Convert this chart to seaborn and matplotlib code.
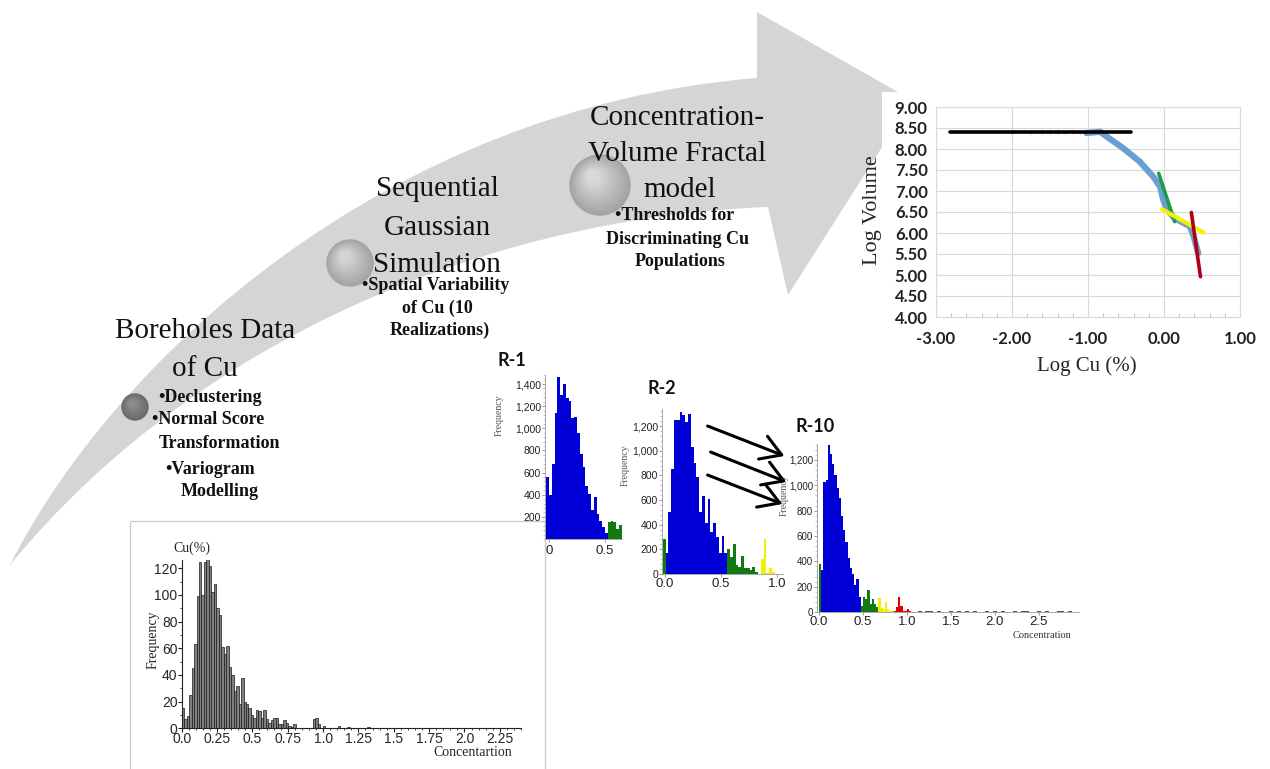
import numpy as np
import pandas as pd
import matplotlib
matplotlib.use("Agg")
import matplotlib.pyplot as plt
import seaborn as sns
from matplotlib.path import Path
from matplotlib.patches import PathPatch, Circle, Rectangle, FancyArrowPatch
from matplotlib.ticker import MultipleLocator

sns.set_theme(style="white")
plt.rcParams["font.family"] = ["DejaVu Sans"]

# ------------------------------------------------------------------ data
# Boreholes data histogram (Cu %)
main_bin_start = 0.0
main_bin_width = 0.0175
main_counts = [15, 7, 9, 25, 45, 63, 99, 125, 100, 125,
               127, 122, 102, 108, 90, 85, 61, 56, 62, 46,
               40, 28, 32, 18, 38, 20, 18, 15, 10, 8,
               14, 13, 8, 14, 7, 4, 6, 8, 8, 3,
               3, 6, 4, 2, 1, 3, 0, 0, 0, 0,
               0, 0, 0, 7, 8, 3, 0, 2, 0, 0,
               0, 0, 0, 2, 0, 0, 0, 1, 0, 0,
               0, 0, 0, 0, 0, 1]
main_xticks = [0.0, 0.25, 0.5, 0.75, 1.0, 1.25, 1.5, 1.75, 2.0, 2.25]
main_xticklabels = ["0.0", "0.25", "0.5", "0.75", "1.0", "1.25", "1.5", "1.75", "2.0", "2.25"]
main_yticks = [0, 20, 40, 60, 80, 100, 120]

# Realization R-1
r1_bin_start = -0.025
r1_bin_width = 0.025
r1_counts = [560, 400, 680, 1140, 1460, 1300, 1400, 1270, 1250, 1090,
             1100, 960, 770, 650, 480, 410, 260, 380, 230, 160,
             110, 50,
             150, 160, 150, 90, 130]
r1_classes = ["blue"] * 22 + ["green"] * 5
r1_yticks = [200, 400, 600, 800, 1000, 1200, 1400]
r1_xticks = [0.0, 0.5]
r1_xticklabels = ["0", "0.5"]

# Realization R-2
r2_bin_start = -0.02
r2_bin_width = 0.025
r2_counts = [280,
             170, 500, 850, 1250, 1250, 1310, 1290, 1230, 1300, 1030,
             900, 790, 500, 630, 410, 610, 340, 410, 300, 170, 310, 170,
             200, 140, 240, 75, 60, 150, 50, 50, 30, 55, 20, 0,
             120, 280, 10, 45, 15]
r2_classes = ["green"] + ["blue"] * 22 + ["green"] * 12 + ["yellow"] * 5
r2_yticks = [0, 200, 400, 600, 800, 1000, 1200]
r2_xticks = [0.0, 0.5, 1.0]
r2_xticklabels = ["0.0", "0.5", "1.0"]

# Realization R-10
r10_bin_start = 0.0
r10_bin_width = 0.025
r10_counts = [380,
              330, 1030, 1040, 1320, 1250, 1170, 1080, 980, 900, 760,
              650, 550, 430, 350, 300, 210, 260, 120,
              50, 120, 100, 170, 60, 100, 60, 40,
              110, 30, 20, 80, 20, 10, 10,
              10, 40, 120, 50, 10, 10, 20, 10]
r10_classes = ["green"] + ["blue"] * 18 + ["green"] * 8 + ["yellow"] * 7 + ["red"] * 8
r10_tail_x = [1.12, 1.22, 1.30, 1.38, 1.50, 1.58, 1.70, 1.78, 1.90, 2.02,
              2.10, 2.22, 2.30, 2.38, 2.50, 2.60, 2.70, 2.78, 2.88]
r10_tail_n = [10, 8, 6, 5, 6, 4, 6, 5, 4, 6, 5, 7, 6, 5, 6, 5, 6, 5, 6]
r10_yticks = [0, 200, 400, 600, 800, 1000, 1200]
r10_xticks = [0.0, 0.5, 1.0, 1.5, 2.0, 2.5]
r10_xticklabels = ["0.0", "0.5", "1.0", "1.5", "2.0", "2.5"]

# Concentration-Volume fractal plot
cv_black_x = [-2.82, -0.43]
cv_black_y = [8.40, 8.40]
cv_gray_x = [-2.0, -1.75, -1.6, -1.5, -1.4, -1.3, -1.2, -1.1, -1.0, -0.9, -0.8]
cv_gray_y = [8.41] * 11
cv_blue_x = [-1.02, -0.84, -0.75, -0.53, -0.32, -0.14, -0.05, -0.01, 0.04, 0.14, 0.34, 0.39, 0.45]
cv_blue_y = [8.38, 8.41, 8.29, 8.01, 7.70, 7.34, 7.10, 6.79, 6.55, 6.35, 6.16, 5.92, 5.52]
cv_green_x = [-0.07, 0.14]
cv_green_y = [7.42, 6.27]
cv_yellow_x = [-0.03, 0.52]
cv_yellow_y = [6.57, 6.01]
cv_red_x = [0.36, 0.48]
cv_red_y = [6.49, 4.96]
cv_xticks = [-3, -2, -1, 0, 1]
cv_yticks = [4.0, 4.5, 5.0, 5.5, 6.0, 6.5, 7.0, 7.5, 8.0, 8.5, 9.0]

palette = {"blue": "#0000d6", "green": "#137a13", "yellow": "#f0f000",
           "red": "#dc0000", "tail": "#555555"}

# ------------------------------------------------------------------ figure
W, H = 1270, 769
fig = plt.figure(figsize=(W / 100, H / 100), dpi=100)
fig.patch.set_facecolor("white")


def px_axes(left, top, right, bottom, z=1):
    return fig.add_axes([left / W, 1 - bottom / H, (right - left) / W, (bottom - top) / H], zorder=z)


SERIF = ["Liberation Serif", "DejaVu Serif"]
SANS = ["Liberation Sans", "DejaVu Sans"]

# background layer ------------------------------------------------------
bg = px_axes(0, 0, W, H, z=0)
bg.set_xlim(0, W)
bg.set_ylim(H, 0)
bg.axis("off")

verts = [(10, 565), (112, 362), (385, 108), (757, 78),
         (757, 12), (912, 100), (788, 295), (768, 207),
         (500, 217), (200, 333), (10, 565), (10, 565)]
codes = [Path.MOVETO, Path.CURVE4, Path.CURVE4, Path.CURVE4,
         Path.LINETO, Path.LINETO, Path.LINETO, Path.LINETO,
         Path.CURVE4, Path.CURVE4, Path.CURVE4, Path.CLOSEPOLY]
bg.add_patch(PathPatch(Path(verts, codes), facecolor="#d5d5d5", edgecolor="none", zorder=1))


def sphere(cx, cy, r, dark, light):
    c0 = np.array(matplotlib.colors.to_rgb(dark))
    c1 = np.array(matplotlib.colors.to_rgb(light))
    n = 14
    for i in range(n):
        f = i / n
        rr = r * (1 - 0.85 * f)
        col = c0 + (c1 - c0) * f
        bg.add_patch(Circle((cx - 0.25 * r * f, cy - 0.3 * r * f), rr, color=col, zorder=2))


sphere(135, 407, 13, "#6a6a6a", "#8e8e8e")
sphere(350, 263, 23, "#a4a4a4", "#d8d8d8")
sphere(600, 185, 30, "#a4a4a4", "#dcdcdc")

# white panels
bg.add_patch(Rectangle((882, 92), 390, 300, facecolor="white", edgecolor="none", zorder=5))
bg.add_patch(Rectangle((130, 521), 415, 260, facecolor="white", edgecolor="#cccccc", lw=1, zorder=5))

head_kw = dict(family=SERIF, fontsize=21, color="#111111", ha="center", va="center", zorder=6)
for txt, x, y in [("Boreholes Data", 205, 331), ("of Cu", 205, 369),
                  ("Sequential", 437, 189), ("Gaussian", 437, 228), ("Simulation", 437, 265),
                  ("Concentration-", 677, 118), ("Volume Fractal", 677, 154), ("model", 680, 190)]:
    bg.text(x, y, txt, **head_kw)

bul_kw = dict(family=SERIF, fontsize=13, fontweight="bold", color="#111111", ha="center", va="center", zorder=6)
for txt, x, y in [("\u2022Declustering", 210, 397), ("\u2022Normal Score", 208, 420),
                  ("Transformation", 219, 443), ("\u2022Variogram", 210, 470), ("Modelling", 220, 492),
                  ("\u2022Spatial Variability", 436, 285), ("of Cu (10", 437, 308),
                  ("Realizations)", 440, 330),
                  ("\u2022Thresholds for", 675, 216), ("Discriminating Cu", 677, 240),
                  ("Populations", 680, 262)]:
    bg.text(x, y, txt, **bul_kw)

for txt, x, y in [("R-1", 512, 360), ("R-2", 662, 389), ("R-10", 815, 426)]:
    bg.text(x, y, txt, family=["Lato", "DejaVu Sans"], fontsize=13, fontweight="bold",
            ha="center", va="center", color="#111111", zorder=6)

# small axis titles drawn on the background layer
bg.text(192, 548, "Cu(%)", family=SERIF, fontsize=10, ha="center", va="center", zorder=6)
bg.text(153, 640, "Frequency", family=SERIF, fontsize=10, rotation=90, ha="center", va="center", zorder=6)
bg.text(473, 752, "Concentartion", family=SERIF, fontsize=10, ha="center", va="center", zorder=6)
bg.text(499, 415, "Frequency", family=SERIF, fontsize=7, rotation=90, color="#555555",
        ha="center", va="center", zorder=6)
bg.text(625, 465, "Frequency", family=SERIF, fontsize=7, rotation=90, color="#555555",
        ha="center", va="center", zorder=6)
bg.text(784, 495, "Frequency", family=SERIF, fontsize=7, rotation=90, color="#555555",
        ha="center", va="center", zorder=6)
bg.text(1042, 636, "Concentration", family=SERIF, fontsize=7.5, color="#333333",
        ha="center", va="center", zorder=6)
bg.text(872, 210, "Log Volume", family=SERIF, fontsize=16, rotation=90, ha="center", va="center", zorder=6)
bg.text(1087, 366, "Log Cu (%)", family=SERIF, fontsize=15, ha="center", va="center", zorder=6)

# ------------------------------------------------------------------ main histogram
axm = px_axes(181.7, 560.3, 521, 728.3, z=2)
axm.patch.set_alpha(0)
n_main = len(main_counts)
main_centers = [main_bin_start + main_bin_width * (i + 0.5) for i in range(n_main)]
sns.histplot(x=main_centers, weights=main_counts, binwidth=main_bin_width,
             binrange=(main_bin_start, main_bin_start + main_bin_width * n_main),
             color="#808080", edgecolor="#1c1c1c", linewidth=0.5, alpha=1, ax=axm)
axm.set_xlim(0, 2.4)
axm.set_ylim(0, 126)
axm.set_xlabel("")
axm.set_ylabel("")
for s in ["top", "right"]:
    axm.spines[s].set_visible(False)
for s in ["left", "bottom"]:
    axm.spines[s].set_color("#222222")
    axm.spines[s].set_linewidth(0.8)
axm.set_xticks(main_xticks)
axm.set_xticklabels(main_xticklabels)
axm.set_yticks(main_yticks)
axm.set_yticklabels([str(v) for v in main_yticks])
axm.xaxis.set_minor_locator(MultipleLocator(0.05))
axm.yaxis.set_minor_locator(MultipleLocator(10))
axm.tick_params(which="major", direction="out", length=3, width=0.8, color="#222222",
                labelsize=10, pad=0, bottom=True, left=True)
axm.tick_params(which="minor", direction="out", length=1.5, width=0.6, color="#222222",
                bottom=True, left=True)
for lab in axm.get_xticklabels() + axm.get_yticklabels():
    lab.set_family(SANS)


# ------------------------------------------------------------------ realizations
def realization(ax, start, width, counts, classes, xlim, ylim, xticks, xlabels, yticks):
    n = len(counts)
    df = pd.DataFrame({"x": [start + width * (i + 0.5) for i in range(n)],
                       "n": counts, "cls": classes})
    sns.histplot(data=df, x="x", weights="n", hue="cls", palette=palette,
                 binwidth=width, binrange=(start, start + width * n),
                 multiple="layer", alpha=1, linewidth=0, legend=False, ax=ax)
    ax.patch.set_alpha(0)
    ax.set_xlim(*xlim)
    ax.set_ylim(*ylim)
    ax.set_xlabel("")
    ax.set_ylabel("")
    for s in ["top", "right"]:
        ax.spines[s].set_visible(False)
    for s in ["left", "bottom"]:
        ax.spines[s].set_color("#9a9a9a")
        ax.spines[s].set_linewidth(0.6)
    ax.set_xticks(xticks)
    ax.set_xticklabels(xlabels)
    ax.set_yticks(yticks)
    ax.set_yticklabels([f"{v:,}" for v in yticks])
    ax.yaxis.set_minor_locator(MultipleLocator(40))
    ax.tick_params(which="major", direction="out", length=2, width=0.6, color="#888888",
                   labelsize=7.5, pad=1, bottom=True, left=True, labelcolor="#222222")
    ax.tick_params(which="minor", direction="out", length=1.2, width=0.5, color="#aaaaaa", left=True)
    for lab in ax.get_xticklabels() + ax.get_yticklabels():
        lab.set_family(SANS)


ax1 = px_axes(545.1, 375.2, 621.8, 539, z=2)
realization(ax1, r1_bin_start, r1_bin_width, r1_counts, r1_classes, (-0.035, 0.65), (0, 1480),
            r1_xticks, r1_xticklabels, r1_yticks)
ax1.tick_params(axis="x", labelsize=9.5, pad=2)

ax2 = px_axes(662.2, 408.8, 782.6, 574, z=2)
realization(ax2, r2_bin_start, r2_bin_width, r2_counts, r2_classes, (-0.025, 1.05), (0, 1340),
            r2_xticks, r2_xticklabels, r2_yticks)
ax2.tick_params(axis="x", labelsize=9.5, pad=1)

ax10 = px_axes(817.2, 443.5, 1078.6, 612, z=2)
realization(ax10, r10_bin_start, r10_bin_width, r10_counts, r10_classes, (-0.02, 2.95), (0, 1330),
            r10_xticks, r10_xticklabels, r10_yticks)
sns.histplot(x=r10_tail_x, weights=r10_tail_n, binwidth=0.045, color=palette["tail"],
             linewidth=0, alpha=1, ax=ax10)
ax10.set_ylabel("")
ax10.set_xlim(-0.02, 2.95)
ax10.set_ylim(0, 1330)
ax10.tick_params(axis="x", labelsize=9.5, pad=1)
ax10.tick_params(axis="y", labelsize=7)

# ------------------------------------------------------------------ C-V fractal plot
axc = px_axes(936, 107, 1240, 317, z=2)
axc.set_facecolor("white")
sns.lineplot(x=cv_blue_x, y=cv_blue_y, color="#6a9fd4", lw=4.5, sort=False, estimator=None, ax=axc)
sns.scatterplot(x=cv_gray_x, y=cv_gray_y, color="#8a8a8a", s=6, linewidth=0, ax=axc)
sns.lineplot(x=cv_black_x, y=cv_black_y, color="black", lw=2.6, sort=False, estimator=None, ax=axc)
sns.lineplot(x=cv_green_x, y=cv_green_y, color="#1f9a4a", lw=2.6, sort=False, estimator=None, ax=axc)
sns.lineplot(x=cv_yellow_x, y=cv_yellow_y, color="#f4f400", lw=3, sort=False, estimator=None, ax=axc)
sns.lineplot(x=cv_red_x, y=cv_red_y, color="#b00018", lw=2.6, sort=False, estimator=None, ax=axc)
axc.set_xlim(-3, 1)
axc.set_ylim(4, 9)
axc.set_xlabel("")
axc.set_ylabel("")
axc.set_xticks(cv_xticks)
axc.set_xticklabels([f"{v:.2f}" for v in cv_xticks])
axc.set_yticks(cv_yticks)
axc.set_yticklabels([f"{v:.2f}" for v in cv_yticks])
axc.grid(True, color="#d9d9d9", lw=0.8)
axc.set_axisbelow(True)
for s in axc.spines.values():
    s.set_color("#d9d9d9")
    s.set_linewidth(0.8)
axc.xaxis.set_minor_locator(MultipleLocator(0.2))
axc.tick_params(which="major", length=0, labelsize=12)
axc.tick_params(axis="y", pad=6)
axc.tick_params(axis="x", pad=10)
axc.tick_params(which="minor", direction="in", length=3, width=0.7, color="#c0c0c0", bottom=True)
for lab in axc.get_xticklabels() + axc.get_yticklabels():
    lab.set_family(["Lato", "DejaVu Sans"])
    lab.set_fontweight("bold")
    lab.set_color("#222222")

# ------------------------------------------------------------------ arrows overlay
top = px_axes(0, 0, W, H, z=10)
top.set_xlim(0, W)
top.set_ylim(H, 0)
top.axis("off")
top.patch.set_alpha(0)
for (x0, y0), (x1, y1) in [((705, 425), (787, 457)), ((708, 451), (789, 483)), ((705, 474), (785, 505))]:
    top.add_patch(FancyArrowPatch((x0, y0), (x1, y1), arrowstyle="->,head_length=0.9,head_width=0.55",
                                  mutation_scale=16, lw=2.2, color="black"))

fig.savefig("out.png", dpi=100)
